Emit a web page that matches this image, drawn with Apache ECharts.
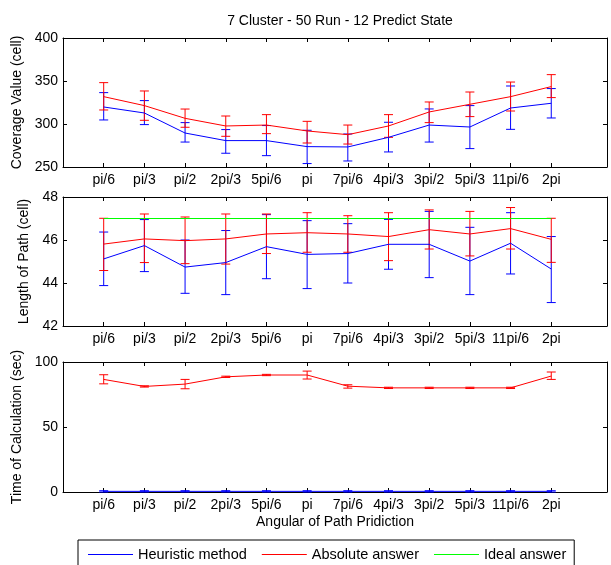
<!DOCTYPE html>
<html><head><meta charset="utf-8">
<script src="https://cdn.jsdelivr.net/npm/echarts@6/dist/echarts.min.js"></script>
<style>html,body{margin:0;padding:0;background:#fff}#c{width:611px;height:565px}</style>
</head><body><div id="c"></div>
<script>
const categories = ['pi/6','pi/3','pi/2','2pi/3','5pi/6','pi','7pi/6','4pi/3','3pi/2','5pi/3','11pi/6','2pi'];

const coverageHeur     = [319.8, 312.8, 289.5, 280.7, 280.7, 273.7, 273.3, 284.5, 298.8, 296.5, 318.6, 324.1];
const coverageHeurLow  = [304.7, 299.3, 279.0, 266.0, 263.2, 254.0, 257.0, 267.5, 279.0, 271.4, 293.8, 307.0];
const coverageHeurHigh = [336.5, 327.2, 301.6, 293.5, 298.2, 292.7, 288.4, 302.0, 317.5, 321.4, 344.2, 341.2];
const coverageAbs      = [331.8, 321.4, 306.6, 297.7, 298.8, 291.9, 287.6, 297.7, 314.0, 322.9, 331.8, 343.5];
const coverageAbsLow   = [316.3, 304.3, 296.2, 285.7, 288.8, 277.9, 276.7, 284.5, 301.6, 308.6, 315.1, 330.7];
const coverageAbsHigh  = [348.1, 338.4, 317.4, 309.3, 310.9, 303.1, 298.8, 310.9, 325.6, 337.2, 348.8, 357.4];

const lengthHeur     = [45.12, 45.74, 44.74, 44.95, 45.69, 45.33, 45.37, 45.80, 45.80, 45.02, 45.85, 44.65];
const lengthHeurLow  = [43.88, 44.53, 43.52, 43.46, 44.20, 43.74, 44.00, 44.64, 44.25, 43.46, 44.42, 43.09];
const lengthHeurHigh = [46.37, 46.95, 46.00, 46.44, 47.18, 46.90, 46.76, 46.96, 47.33, 46.59, 47.27, 46.16];
const lengthAbs      = [45.81, 46.05, 45.97, 46.05, 46.28, 46.34, 46.28, 46.16, 46.48, 46.28, 46.53, 46.03];
const lengthAbsLow   = [44.58, 44.95, 44.90, 44.88, 45.37, 45.43, 45.43, 45.04, 45.58, 45.26, 45.58, 44.96];
const lengthAbsHigh  = [47.01, 47.21, 47.07, 47.21, 47.21, 47.27, 47.13, 47.27, 47.40, 47.33, 47.51, 47.01];
const lengthIdeal    = [47, 47, 47, 47, 47, 47, 47, 47, 47, 47, 47, 47];

const timeHeur     = [0.5, 0.5, 0.5, 0.5, 0.5, 0.5, 0.5, 0.5, 0.5, 0.5, 0.5, 0.5];
const timeHeurLow  = [0.0, 0.0, 0.0, 0.0, 0.0, 0.0, 0.0, 0.0, 0.0, 0.0, 0.0, 0.0];
const timeHeurHigh = [1.0, 1.0, 1.0, 1.0, 1.0, 1.0, 1.0, 1.0, 1.0, 1.0, 1.0, 1.0];
const timeAbs      = [86.6, 81.2, 83.0, 88.6, 90.0, 90.0, 81.4, 80.1, 80.1, 80.1, 80.1, 89.2];
const timeAbsLow   = [83.2, 80.7, 79.4, 88.1, 89.5, 86.9, 79.9, 79.6, 79.6, 79.6, 79.6, 86.6];
const timeAbsHigh  = [90.2, 81.7, 86.6, 89.1, 90.5, 93.0, 82.5, 80.6, 80.6, 80.6, 80.6, 92.3];

const yTicks1 = [250, 400, 50];
const yTicks2 = [42, 48, 2];
const yTicks3 = [0, 100, 50];

const FONT = '"Liberation Sans", Arial, sans-serif';
const BLUE = '#0000ff', RED = '#ff0000', GREEN = '#00ff00';
const X_MAX = 13.37;
const tickPos = categories.map((_, i) => i + 1);
const txt = { color: '#000', fontSize: 14, fontFamily: FONT };

function xAxes(gridIndex, name) {
  const line = { show: true, onZero: false, lineStyle: { color: '#000', width: 1 } };
  return [{
    type: 'value', gridIndex, position: 'bottom', min: 0, max: X_MAX,
    axisLine: line,
    axisTick: { show: true, inside: true, length: 4, customValues: tickPos, lineStyle: { color: '#000' } },
    axisLabel: Object.assign({ show: true, customValues: tickPos, margin: 6,
      formatter: v => categories[Math.round(v) - 1] || '' }, txt),
    splitLine: { show: false },
    name: name || '', nameLocation: 'middle', nameGap: 23, nameTextStyle: txt
  }, {
    type: 'value', gridIndex, position: 'top', min: 0, max: X_MAX,
    axisLine: line,
    axisTick: { show: true, inside: true, length: 4, customValues: tickPos, lineStyle: { color: '#000' } },
    axisLabel: { show: false }, splitLine: { show: false }
  }];
}
function yAxes(gridIndex, t, name) {
  const line = { show: true, onZero: false, lineStyle: { color: '#000', width: 1 } };
  return [{
    type: 'value', gridIndex, position: 'left', min: t[0], max: t[1], interval: t[2],
    axisLine: line,
    axisTick: { show: true, inside: true, length: 4, lineStyle: { color: '#000' } },
    axisLabel: Object.assign({ margin: 5 }, txt),
    splitLine: { show: false },
    name, nameLocation: 'middle', nameGap: 31, nameTextStyle: txt
  }, {
    type: 'value', gridIndex, position: 'right', min: t[0], max: t[1], interval: t[2],
    axisLine: line,
    axisTick: { show: true, inside: true, length: 4, lineStyle: { color: '#000' } },
    axisLabel: { show: false }, splitLine: { show: false }
  }];
}

function lineSeries(name, vals, color, axisIdx) {
  return {
    type: 'line', name, xAxisIndex: axisIdx, yAxisIndex: axisIdx,
    data: vals.map((v, i) => [i + 1, v]),
    color: color,
    symbol: 'none', showSymbol: false,
    lineStyle: { color, width: 1 }, itemStyle: { color },
    z: 2, silent: true
  };
}
function errSeries(id, lo, hi, color, axisIdx) {
  return {
    type: 'custom', name: id, xAxisIndex: axisIdx, yAxisIndex: axisIdx,
    data: lo.map((v, i) => [i + 1, v, hi[i]]),
    color: color,
    z: 2, silent: true,
    renderItem: function (params, api) {
      const x = api.value(0);
      const a = api.coord([x, api.value(1)]);
      const b = api.coord([x, api.value(2)]);
      const w = 4.5;
      const st = { stroke: color, lineWidth: 1, fill: null };
      return { type: 'group', children: [
        { type: 'line', shape: { x1: a[0], y1: a[1], x2: b[0], y2: b[1] }, style: st },
        { type: 'line', shape: { x1: a[0] - w, y1: a[1], x2: a[0] + w, y2: a[1] }, style: st },
        { type: 'line', shape: { x1: b[0] - w, y1: b[1], x2: b[0] + w, y2: b[1] }, style: st }
      ]};
    }
  };
}

const chart = echarts.init(document.getElementById('c'), null, { renderer: 'canvas' });
chart.setOption({
  animation: false,
  backgroundColor: '#fff',
  color: [BLUE, RED, GREEN],
  title: {
    text: '7 Cluster - 50 Run - 12 Predict State',
    left: 335, textAlign: 'center', top: 9,
    textStyle: { color: '#000', fontSize: 14, fontWeight: 'normal', fontFamily: FONT }
  },
  legend: {
    left: 78, top: 540,
    data: [
      { name: 'Heuristic method', icon: 'path://M0,0 H45 V1 H0 Z', itemStyle: { color: BLUE, borderWidth: 0 } },
      { name: 'Absolute answer', icon: 'path://M0,0 H45 V1 H0 Z', itemStyle: { color: RED, borderWidth: 0 } },
      { name: 'Ideal answer', icon: 'path://M0,0 H45 V1 H0 Z', itemStyle: { color: GREEN, borderWidth: 0 } }
    ],
    itemWidth: 45, itemHeight: 1, itemGap: 15,
    padding: [7, 8, 8, 10],
    borderColor: '#000', borderWidth: 1,
    textStyle: { color: '#000', fontSize: 14.5, fontFamily: FONT }, selectedMode: false
  },
  grid: [
    { left: 63, right: 4, top: 38, height: 129 },
    { left: 63, right: 4, top: 197, height: 129 },
    { left: 63, right: 4, top: 362, height: 130 }
  ],
  xAxis: [].concat(xAxes(0), xAxes(1), xAxes(2, 'Angular of Path Pridiction')),
  yAxis: [].concat(
    yAxes(0, yTicks1, 'Coverage Value (cell)'),
    yAxes(1, yTicks2, 'Length of Path (cell)'),
    yAxes(2, yTicks3, 'Time of Calculation (sec)')
  ),
  series: [
    errSeries('e1', coverageHeurLow, coverageHeurHigh, BLUE, 0),
    lineSeries('Heuristic method', coverageHeur, BLUE, 0),
    errSeries('e2', coverageAbsLow, coverageAbsHigh, RED, 0),
    lineSeries('Absolute answer', coverageAbs, RED, 0),

    errSeries('e3', lengthHeurLow, lengthHeurHigh, BLUE, 2),
    lineSeries('Heuristic method', lengthHeur, BLUE, 2),
    errSeries('e4', lengthAbsLow, lengthAbsHigh, RED, 2),
    lineSeries('Absolute answer', lengthAbs, RED, 2),
    lineSeries('Ideal answer', lengthIdeal, GREEN, 2),

    errSeries('e5', timeHeurLow, timeHeurHigh, BLUE, 4),
    lineSeries('Heuristic method', timeHeur, BLUE, 4),
    errSeries('e6', timeAbsLow, timeAbsHigh, RED, 4),
    lineSeries('Absolute answer', timeAbs, RED, 4)
  ]
});
</script></body></html>
